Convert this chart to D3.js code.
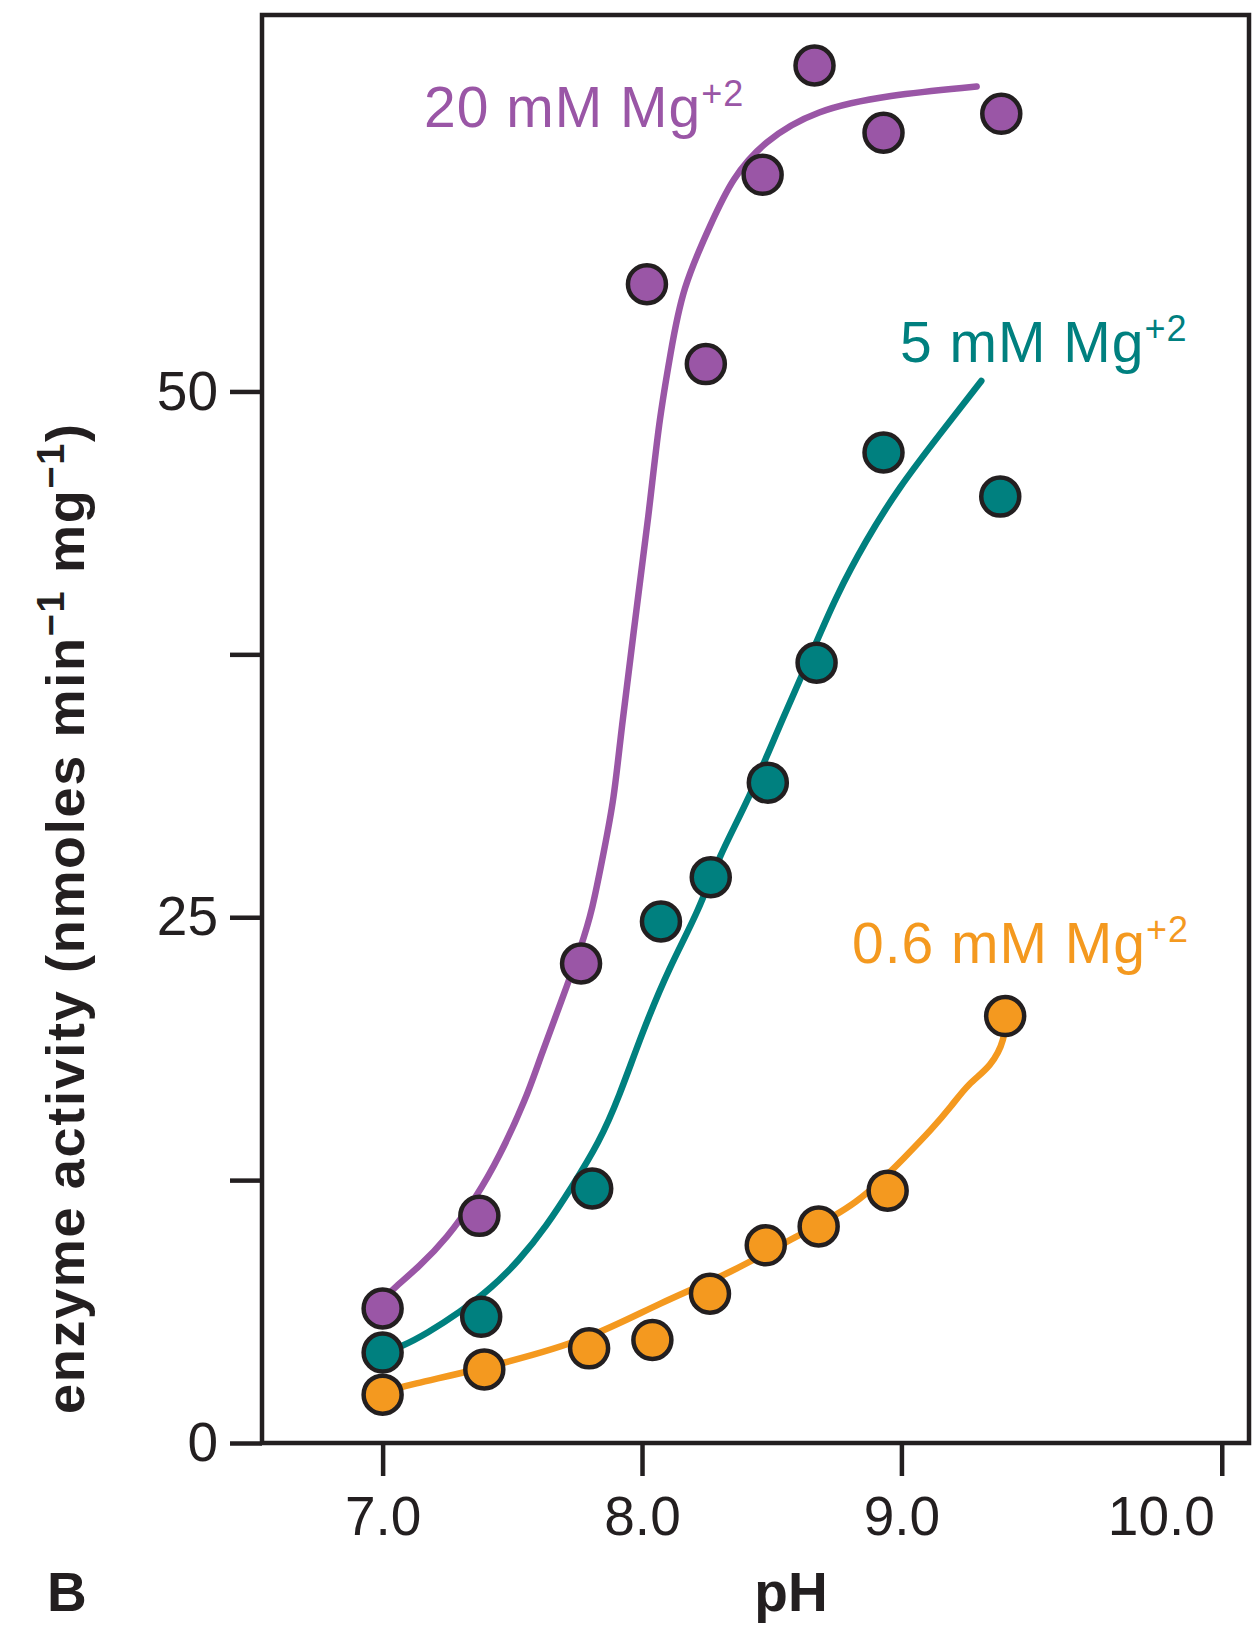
<!DOCTYPE html>
<html><head><meta charset="utf-8">
<script src="https://cdn.jsdelivr.net/npm/d3@7"></script>
<style>
body{margin:0;background:#fff}
svg{display:block}
text{font-family:"Liberation Sans", Arial, Helvetica, sans-serif}
</style>
</head><body>
<svg id="chart" width="1254" height="1643"></svg>
<script>
// ---------- data ----------
const seriesNames = ["20 mM Mg", "5 mM Mg", "0.6 mM Mg"];
const seriesSup = "+2";
const seriesColors = ["#9a56a6", "#00807f", "#f4991f"];

// measured points (pH, enzyme activity)
const pH20  = [7.0, 7.373, 7.765, 8.019, 8.246, 8.465, 8.665, 8.931, 9.385];
const act20 = [6.4, 10.8, 22.8, 55.1, 51.3, 60.3, 65.5, 62.3, 63.2];
const pH5   = [7.0, 7.38, 7.808, 8.073, 8.265, 8.485, 8.673, 8.931, 9.381];
const act5  = [4.3, 6.0, 12.1, 24.8, 26.9, 31.4, 37.1, 47.1, 45.0];
const pH06  = [7.0, 7.392, 7.796, 8.04, 8.262, 8.477, 8.681, 8.947, 9.4];
const act06 = [2.3, 3.5, 4.5, 4.9, 7.1, 9.4, 10.3, 12.0, 20.3];

// hand-drawn trend curves
const curvePH20  = [7.0,7.038,7.142,7.246,7.362,7.45,7.554,7.604,7.692,7.765,7.808,7.854,7.892,7.919,7.973,8.027,8.065,8.11,8.154,8.27,8.346,8.469,8.67,8.95,9.29];
const curveAct20 = [6.8,7.3,8.4,9.7,11.7,13.6,16.4,18.2,21.1,23.6,25.3,28.2,30.6,33.8,39.1,44.2,48.6,51.8,54.9,58.1,60.1,61.9,63.4,64.1,64.5];
const curvePH5   = [7.0,7.077,7.169,7.296,7.423,7.527,7.631,7.731,7.835,7.91,8.0,8.104,8.219,8.296,8.412,8.54,8.67,8.746,8.862,8.988,9.15,9.308];
const curveAct5  = [4.3,4.6,5.2,6.2,7.4,8.7,10.3,12.2,14.3,16.4,19.5,22.6,25.3,27.9,30.6,34.4,38.0,40.2,42.9,45.4,48.0,50.5];
const curvePH06  = [7.0,7.077,7.477,7.808,8.065,8.346,8.588,8.83,9.03,9.115,9.192,9.258,9.346,9.4,9.4];
const curveAct06 = [2.4,2.7,3.8,5.0,6.65,8.1,9.8,11.3,13.8,14.9,16.0,17.1,17.9,19.2,20.3];

// axes
const xTickMarks  = [7, 8, 9, 10.235];   // tick marks as drawn (10.0 mark sits off-grid)
const xTickLabels = [7, 8, 9, 10];
const yTickValues = [0, 12.5, 25, 37.5, 50];
const yTickLabels = ["0", "", "25", "", "50"];
const xDomain = [6.535, 10.34];
const yDomain = [0, 67.9];
const xTitle = "pH";
const yTitleParts = ["enzyme activity (nmoles min", "\u22121", " mg", "\u22121", ")"];
const panelLabel = "B";

// ---------- layout ----------
const ink = "#231f20";
const L = 262, R = 1249, T = 15, B = 1443;
const svg = d3.select("#chart");
const x = d3.scaleLinear().domain(xDomain).range([L, R]);
const y = d3.scaleLinear().domain(yDomain).range([B, T]);

const series = [
  {pts: pH20.map((p,i)=>[p, act20[i]]), curve: curvePH20.map((p,i)=>[p, curveAct20[i]])},
  {pts: pH5.map((p,i)=>[p, act5[i]]),   curve: curvePH5.map((p,i)=>[p, curveAct5[i]])},
  {pts: pH06.map((p,i)=>[p, act06[i]]), curve: curvePH06.map((p,i)=>[p, curveAct06[i]])}
];

// frame
svg.append("rect").attr("x", L).attr("y", T).attr("width", R-L).attr("height", B-T)
  .attr("fill", "none").attr("stroke", ink).attr("stroke-width", 4.5);

// y axis
const yAxis = d3.axisLeft(y).tickValues(yTickValues).tickSize(32).tickPadding(12)
  .tickFormat((d,i)=>yTickLabels[i]);
const gy = svg.append("g").attr("transform", `translate(${L},0)`).call(yAxis);
gy.select(".domain").remove();
gy.selectAll("line").attr("stroke", ink).attr("stroke-width", 4.5);
gy.selectAll("text").attr("fill", ink).attr("font-size", 55).attr("font-family", null);

// x axis tick marks
const gxm = svg.append("g").attr("transform", `translate(0,${B})`)
  .call(d3.axisBottom(x).tickValues(xTickMarks).tickSize(33).tickFormat(""));
gxm.select(".domain").remove();
gxm.selectAll("line").attr("stroke", ink).attr("stroke-width", 4.5);
// x axis labels
const gxl = svg.append("g").attr("transform", `translate(0,${B})`)
  .call(d3.axisBottom(x).tickValues(xTickLabels).tickSize(33).tickPadding(20).tickFormat(d3.format(".1f")));
gxl.select(".domain").remove();
gxl.selectAll("line").remove();
gxl.selectAll("text").attr("fill", ink).attr("font-size", 55).attr("font-family", null);

// lines
const line = d3.line().x(d=>x(d[0])).y(d=>y(d[1])).curve(d3.curveBasis);
series.forEach((s,i)=>{
  svg.append("path").datum(s.curve).attr("d", line)
    .attr("fill", "none").attr("stroke", seriesColors[i]).attr("stroke-width", 6.5)
    .attr("stroke-linecap", "round").attr("stroke-linejoin", "round");
});
// points
series.forEach((s,i)=>{
  svg.append("g").selectAll("circle").data(s.pts).join("circle")
    .attr("cx", d=>x(d[0])).attr("cy", d=>y(d[1])).attr("r", 19)
    .attr("fill", seriesColors[i]).attr("stroke", ink).attr("stroke-width", 4.5);
});

// series labels
const labelPos = [[424,127],[900,362],[852,963]];
seriesNames.forEach((n,i)=>{
  const t = svg.append("text").attr("x", labelPos[i][0]).attr("y", labelPos[i][1])
    .attr("fill", seriesColors[i]).attr("font-size", 57).attr("letter-spacing", 1);
  t.append("tspan").text(n);
  t.append("tspan").attr("font-size", 36).attr("dy", -21).text(seriesSup);
});

// y title
const yt = svg.append("text").attr("transform", "translate(84,919) rotate(-90)")
  .attr("text-anchor", "middle").attr("font-weight", "bold").attr("font-size", 54)
  .attr("fill", ink).attr("textLength", 990).attr("lengthAdjust", "spacing");
yTitleParts.forEach((p,i)=>{
  const sup = i % 2 === 1;
  yt.append("tspan").text(p)
    .attr("font-size", sup ? 38 : 54)
    .attr("dy", sup ? -20 : (i > 0 ? 20 : 0));
});

// x title & panel label
svg.append("text").attr("x", 791).attr("y", 1611).attr("text-anchor", "middle")
  .attr("font-weight", "bold").attr("font-size", 55).attr("fill", ink).text(xTitle);
svg.append("text").attr("x", 47).attr("y", 1611)
  .attr("font-weight", "bold").attr("font-size", 55).attr("fill", ink).text(panelLabel);
</script>
</body></html>
